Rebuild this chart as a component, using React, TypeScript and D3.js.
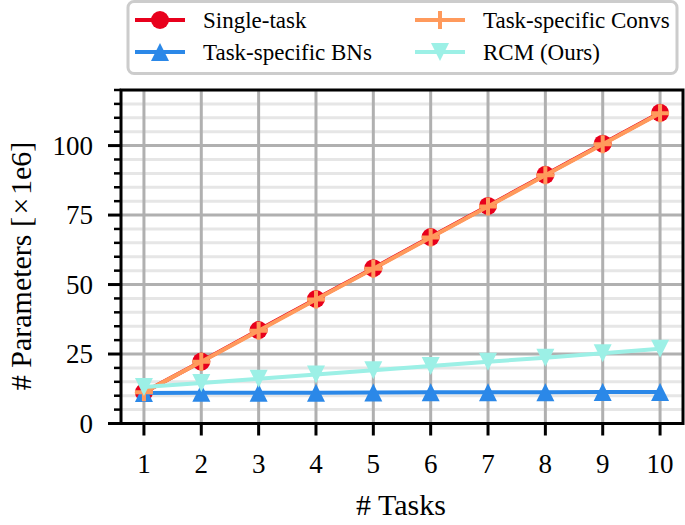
import React from 'react';
import * as d3 from 'd3';

const tasks = [1, 2, 3, 4, 5, 6, 7, 8, 9, 10];
const singleTask = [11.2, 22.3, 33.6, 44.8, 55.9, 67.1, 78.3, 89.5, 100.7, 111.8];
const specificBNs = [11.0, 11.05, 11.1, 11.1, 11.15, 11.2, 11.2, 11.25, 11.3, 11.3];
const specificConvs = [11.2, 22.2, 33.4, 44.6, 55.7, 66.9, 78.1, 89.3, 100.5, 111.6];
const rcm = [13.1, 14.6, 16.1, 17.6, 19.2, 20.7, 22.2, 23.7, 25.3, 26.9];

const yMajor = [0, 25, 50, 75, 100];
const yMinor = d3.range(0, 121, 5).filter((v) => v % 25 !== 0);

const RED = '#e8001c';
const BLUE = '#2b88e8';
const ORANGE = '#ff9a5c';
const CYAN = '#9cf0e6';
const FONT = '"Liberation Serif", "Times New Roman", serif';

const W = 685;
const H = 525;
const plot = { left: 121, right: 683, top: 90, bottom: 423.5 };

type Kind = 'circle' | 'up' | 'plus' | 'down';

const Marker: React.FC<{ kind: Kind; x: number; y: number; color: string }> = ({ kind, x, y, color }) => {
  const s = 9;
  if (kind === 'circle') return <circle cx={x} cy={y} r={s} fill={color} />;
  if (kind === 'up')
    return <path d={`M${x},${y - s}L${x + s},${y + s}L${x - s},${y + s}Z`} fill={color} />;
  if (kind === 'down')
    return <path d={`M${x},${y + s}L${x + s},${y - s}L${x - s},${y - s}Z`} fill={color} />;
  return (
    <path d={`M${x - s},${y}H${x + s}M${x},${y - s}V${y + s}`} stroke={color} strokeWidth={4} fill="none" />
  );
};

const series: { name: string; values: number[]; color: string; kind: Kind }[] = [
  { name: 'Single-task', values: singleTask, color: RED, kind: 'circle' },
  { name: 'Task-specific BNs', values: specificBNs, color: BLUE, kind: 'up' },
  { name: 'Task-specific Convs', values: specificConvs, color: ORANGE, kind: 'plus' },
  { name: 'RCM (Ours)', values: rcm, color: CYAN, kind: 'down' },
];

export default function App() {
  const x = d3.scaleLinear().domain([0.6, 10.4]).range([plot.left, plot.right]);
  const y = d3.scaleLinear().domain([0, 120]).range([plot.bottom, plot.top]);
  const line = d3
    .line<number>()
    .x((_, i) => x(tasks[i]))
    .y((d) => y(d));

  // legend layout: column-major like matplotlib ncol=2
  const legendPos = [
    { hx: 135, ty: 20 },
    { hx: 135, ty: 52 },
    { hx: 415, ty: 20 },
    { hx: 415, ty: 52 },
  ];

  return (
    <svg width={W} height={H} style={{ position: 'absolute', left: 0, top: 0, background: '#fff' }}>
      <defs>
        <clipPath id="plotClip">
          <rect x={plot.left} y={plot.top} width={plot.right - plot.left} height={plot.bottom - plot.top} />
        </clipPath>
      </defs>

      {/* grid */}
      <g clipPath="url(#plotClip)">
        {yMinor.map((v) => (
          <line key={'m' + v} x1={plot.left} x2={plot.right} y1={y(v)} y2={y(v)} stroke="#e6e6e6" strokeWidth={3} />
        ))}
        {yMajor.map((v) => (
          <line key={'M' + v} x1={plot.left} x2={plot.right} y1={y(v)} y2={y(v)} stroke="#b0b0b0" strokeWidth={3} />
        ))}
        {tasks.map((t) => (
          <line key={'x' + t} x1={x(t)} x2={x(t)} y1={plot.top} y2={plot.bottom} stroke="#b0b0b0" strokeWidth={3} />
        ))}
      </g>

      {/* series */}
      <g clipPath="url(#plotClip)">
        {series.map((s) => (
          <g key={s.name}>
            <path d={line(s.values) || ''} fill="none" stroke={s.color} strokeWidth={4} />
            {s.values.map((v, i) => (
              <Marker key={i} kind={s.kind} x={x(tasks[i])} y={y(v)} color={s.color} />
            ))}
          </g>
        ))}
      </g>

      {/* spines */}
      <rect
        x={plot.left}
        y={plot.top}
        width={plot.right - plot.left}
        height={plot.bottom - plot.top}
        fill="none"
        stroke="#000"
        strokeWidth={3}
      />

      {/* y ticks */}
      {yMinor.map((v) => (
        <line key={'ym' + v} x1={plot.left - 7} x2={plot.left} y1={y(v)} y2={y(v)} stroke="#000" strokeWidth={2.5} />
      ))}
      {yMajor.map((v) => (
        <g key={'yM' + v}>
          <line x1={plot.left - 13} x2={plot.left} y1={y(v)} y2={y(v)} stroke="#000" strokeWidth={3} />
          <text
            x={93}
            y={y(v)}
            dy="0.34em"
            textAnchor="end"
            fontFamily={FONT}
            fontSize={27}
            fill="#000"
          >
            {v}
          </text>
        </g>
      ))}

      {/* x ticks */}
      {tasks.map((t) => (
        <g key={'xt' + t}>
          <line x1={x(t)} x2={x(t)} y1={plot.bottom} y2={plot.bottom + 12} stroke="#000" strokeWidth={3} />
          <text x={x(t)} y={473} textAnchor="middle" fontFamily={FONT} fontSize={27} fill="#000">
            {t}
          </text>
        </g>
      ))}

      {/* axis labels */}
      <text x={401} y={515} textAnchor="middle" fontFamily={FONT} fontSize={30} fill="#000">
        # Tasks
      </text>
      <text
        transform={`translate(31,266) rotate(-90)`}
        textAnchor="middle"
        fontFamily={FONT}
        fontSize={30}
        fill="#000"
      >
        {'# Parameters [\u200A×\u200A1e6]'}
      </text>

      {/* legend */}
      <rect x={128} y={1.5} width={549} height={72} rx={6} fill="#fff" fillOpacity={0.8} stroke="#cccccc" strokeWidth={3} />
      {series.map((s, i) => {
        const p = legendPos[i];
        return (
          <g key={'lg' + s.name}>
            <line x1={p.hx} x2={p.hx + 50} y1={p.ty} y2={p.ty} stroke={s.color} strokeWidth={4} />
            <Marker kind={s.kind} x={p.hx + 25} y={p.ty} color={s.color} />
            <text x={p.hx + 68} y={p.ty} dy="0.35em" fontFamily={FONT} fontSize={23} fill="#000">
              {s.name}
            </text>
          </g>
        );
      })}
    </svg>
  );
}
